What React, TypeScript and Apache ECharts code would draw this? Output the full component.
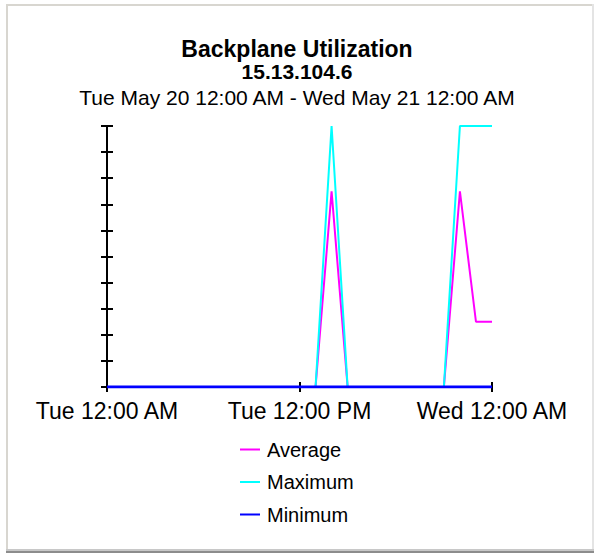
import React, { useEffect, useRef } from "react";
import * as echarts from "echarts";

const hours = [0, 1, 2, 3, 4, 5, 6, 7, 8, 9, 10, 11, 12, 13, 14, 15, 16, 17, 18, 19, 20, 21, 22, 23, 24];
const averageValues = [0, 0, 0, 0, 0, 0, 0, 0, 0, 0, 0, 0, 0, 0, 75, 0, 0, 0, 0, 0, 0, 0, 75, 25, 25];
const maximumValues = [0, 0, 0, 0, 0, 0, 0, 0, 0, 0, 0, 0, 0, 0, 100, 0, 0, 0, 0, 0, 0, 0, 100, 100, 100];
const minimumValues = [0, 0, 0, 0, 0, 0, 0, 0, 0, 0, 0, 0, 0, 0, 0, 0, 0, 0, 0, 0, 0, 0, 0, 0, 0];
const xTickLabels = ["Tue 12:00 AM", "Tue 12:00 PM", "Wed 12:00 AM"];
const seriesNames = ["Average", "Maximum", "Minimum"];
const seriesColors = ["#ff00ff", "#00ffff", "#0000ff"];

const FONT = "'Liberation Sans', Arial, sans-serif";

export default function App() {
  const ref = useRef<HTMLDivElement>(null);
  useEffect(() => {
    if (!ref.current) return;
    const chart = echarts.init(ref.current, undefined, { renderer: "svg" });
    const toPairs = (vals: number[]) => hours.map((h, i) => [h, vals[i]]);
    const allValues = [averageValues, maximumValues, minimumValues];
    const widths = [2, 2, 3];

    const yBase = {
      type: "value",
      min: 0,
      max: 100,
      interval: 10,
      position: "left",
      splitLine: { show: false },
      axisLabel: { show: false },
    };
    const xBase = {
      type: "value",
      min: 0,
      max: 24,
      interval: 12,
      position: "bottom",
      splitLine: { show: false },
    };

    chart.setOption({
      animation: false,
      backgroundColor: "#ffffff",
      textStyle: { fontFamily: FONT },
      title: [
        {
          text: "Backplane Utilization",
          left: "center",
          top: 37,
          padding: 0,
          textStyle: { fontFamily: FONT, fontSize: 23, fontWeight: "bold", color: "#000" },
        },
        {
          text: "15.13.104.6",
          left: "center",
          top: 61,
          padding: 0,
          textStyle: { fontFamily: FONT, fontSize: 21, fontWeight: "bold", color: "#000" },
        },
        {
          text: "Tue May 20 12:00 AM - Wed May 21 12:00 AM",
          left: "center",
          top: 87,
          padding: 0,
          textStyle: { fontFamily: FONT, fontSize: 21, fontWeight: "normal", color: "#000" },
        },
      ],
      legend: {
        orient: "vertical",
        left: 240,
        top: 434,
        padding: 0,
        itemWidth: 20,
        itemHeight: 2,
        itemGap: 1.5,
        icon: "rect",
        data: seriesNames,
        textStyle: {
          fontFamily: FONT,
          fontSize: 20,
          color: "#000",
          lineHeight: 22,
          padding: [9, 0, 0, 2],
        },
      },
      grid: { left: 107, right: 102, top: 126, bottom: 168, containLabel: false },
      xAxis: [
        {
          ...xBase,
          offset: 0,
          axisLine: { show: true, onZero: false, lineStyle: { color: "#000", width: 2 } },
          axisTick: { show: false },
          axisLabel: {
            show: true,
            margin: 12,
            fontFamily: FONT,
            fontSize: 23,
            color: "#000",
            formatter: (v: number) => xTickLabels[Math.round(v / 12)] ?? "",
          },
        },
        {
          ...xBase,
          offset: -5,
          axisLine: { show: false, onZero: false },
          axisTick: { show: true, inside: false, length: 10, lineStyle: { color: "#000", width: 2 } },
          axisLabel: { show: false },
        },
      ],
      yAxis: [
        {
          ...yBase,
          offset: 0,
          axisLine: { show: true, onZero: false, lineStyle: { color: "#000", width: 2 } },
          axisTick: { show: false },
        },
        {
          ...yBase,
          offset: -6,
          axisLine: { show: false, onZero: false },
          axisTick: { show: true, inside: false, length: 12, lineStyle: { color: "#000", width: 2 } },
        },
      ],
      series: seriesNames.map((name, i) => ({
        name,
        type: "line",
        xAxisIndex: 0,
        yAxisIndex: 0,
        data: toPairs(allValues[i]),
        showSymbol: false,
        symbol: "none",
        color: seriesColors[i],
        lineStyle: { color: seriesColors[i], width: widths[i] },
        z: 2 + i,
      })),
      graphic: [
        { type: "rect", shape: { x: 6, y: 4, width: 588, height: 2 }, style: { fill: "#d8d6d0" }, silent: true },
        { type: "rect", shape: { x: 6, y: 4, width: 2, height: 548 }, style: { fill: "#d8d6d0" }, silent: true },
        { type: "rect", shape: { x: 592, y: 4, width: 2, height: 548 }, style: { fill: "#e4e4e4" }, silent: true },
        { type: "rect", shape: { x: 6, y: 549, width: 588, height: 2 }, style: { fill: "#c8c8c8" }, silent: true },
        { type: "rect", shape: { x: 6, y: 551, width: 588, height: 2 }, style: { fill: "#8c8c8c" }, silent: true },
      ],
    });
    return () => chart.dispose();
  }, []);

  return (
    <div
      ref={ref}
      style={{ position: "fixed", left: 0, top: 0, width: 594, height: 555, background: "#fff" }}
    />
  );
}
